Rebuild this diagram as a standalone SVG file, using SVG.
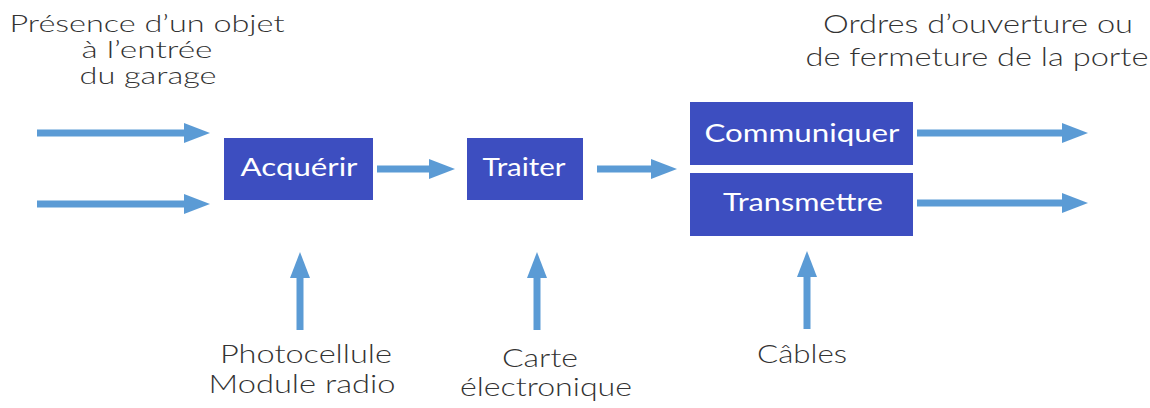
<svg xmlns="http://www.w3.org/2000/svg" width="1150" height="408" viewBox="0 0 1150 408">
<style>
.box{fill:#3d4ec0;}
.bl{font-family:Lato,"Open Sans","DejaVu Sans",sans-serif;font-size:25px;font-weight:400;fill:#ffffff;text-anchor:middle;}
.lbl{font-family:Lato,"Open Sans","DejaVu Sans",sans-serif;font-size:25px;font-weight:300;fill:#333333;text-anchor:middle;}
.tight{font-size:23px;}
.arr{stroke:#5b9bd5;stroke-width:7;fill:none;marker-end:url(#ah);}
</style>
<defs>
<marker id="ah" markerUnits="userSpaceOnUse" markerWidth="26" markerHeight="22" refX="3" refY="11" orient="auto">
<path d="M0,1 L26,11 L0,21 Z" fill="#5b9bd5"/>
</marker>
</defs>
<rect width="1150" height="408" fill="#ffffff"/>
<g id="connectors">
<line class="arr" x1="37" y1="133" x2="187" y2="133"/>
<line class="arr" x1="37" y1="204" x2="187" y2="204"/>
<line class="arr" x1="377" y1="169" x2="432" y2="169"/>
<line class="arr" x1="597" y1="169" x2="654" y2="169"/>
<line class="arr" x1="917" y1="133" x2="1065" y2="133"/>
<line class="arr" x1="917" y1="203" x2="1065" y2="203"/>
<line class="arr" x1="300" y1="330" x2="300" y2="275"/>
<line class="arr" x1="537" y1="330" x2="537" y2="275"/>
<line class="arr" x1="807" y1="329" x2="807" y2="274"/>
</g>
<g id="acquerir">
<rect class="box" x="224" y="138" width="149" height="62"/>
<text class="bl" x="299" y="176" textLength="117" lengthAdjust="spacingAndGlyphs">Acquérir</text>
</g>
<g id="traiter">
<rect class="box" x="467" y="138" width="116" height="62"/>
<text class="bl" x="524" y="176" textLength="83" lengthAdjust="spacingAndGlyphs">Traiter</text>
</g>
<g id="communiquer">
<rect class="box" x="690" y="102" width="223" height="63"/>
<text class="bl" x="802" y="142" textLength="195" lengthAdjust="spacingAndGlyphs">Communiquer</text>
</g>
<g id="transmettre">
<rect class="box" x="690" y="173" width="223" height="63"/>
<text class="bl" x="803" y="211" textLength="160" lengthAdjust="spacingAndGlyphs">Transmettre</text>
</g>
<g id="entree">
<text class="lbl tight" x="147" y="32" textLength="275" lengthAdjust="spacingAndGlyphs">Présence d’un objet</text>
<text class="lbl tight" x="147" y="58" textLength="131" lengthAdjust="spacingAndGlyphs">à l’entrée</text>
<text class="lbl tight" x="148" y="84" textLength="137" lengthAdjust="spacingAndGlyphs">du garage</text>
</g>
<g id="sortie">
<text class="lbl" x="978" y="33" textLength="310" lengthAdjust="spacingAndGlyphs">Ordres d’ouverture ou</text>
<text class="lbl" x="977" y="66" textLength="343" lengthAdjust="spacingAndGlyphs">de fermeture de la porte</text>
</g>
<g id="photocellule">
<text class="lbl" x="306" y="363" textLength="172" lengthAdjust="spacingAndGlyphs">Photocellule</text>
<text class="lbl" x="302" y="393" textLength="187" lengthAdjust="spacingAndGlyphs">Module radio</text>
</g>
<g id="carte">
<text class="lbl" x="540" y="367" textLength="76" lengthAdjust="spacingAndGlyphs">Carte</text>
<text class="lbl" x="546" y="396" textLength="172" lengthAdjust="spacingAndGlyphs">électronique</text>
</g>
<g id="cables">
<text class="lbl" x="802" y="363" textLength="90" lengthAdjust="spacingAndGlyphs">Câbles</text>
</g>
</svg>
